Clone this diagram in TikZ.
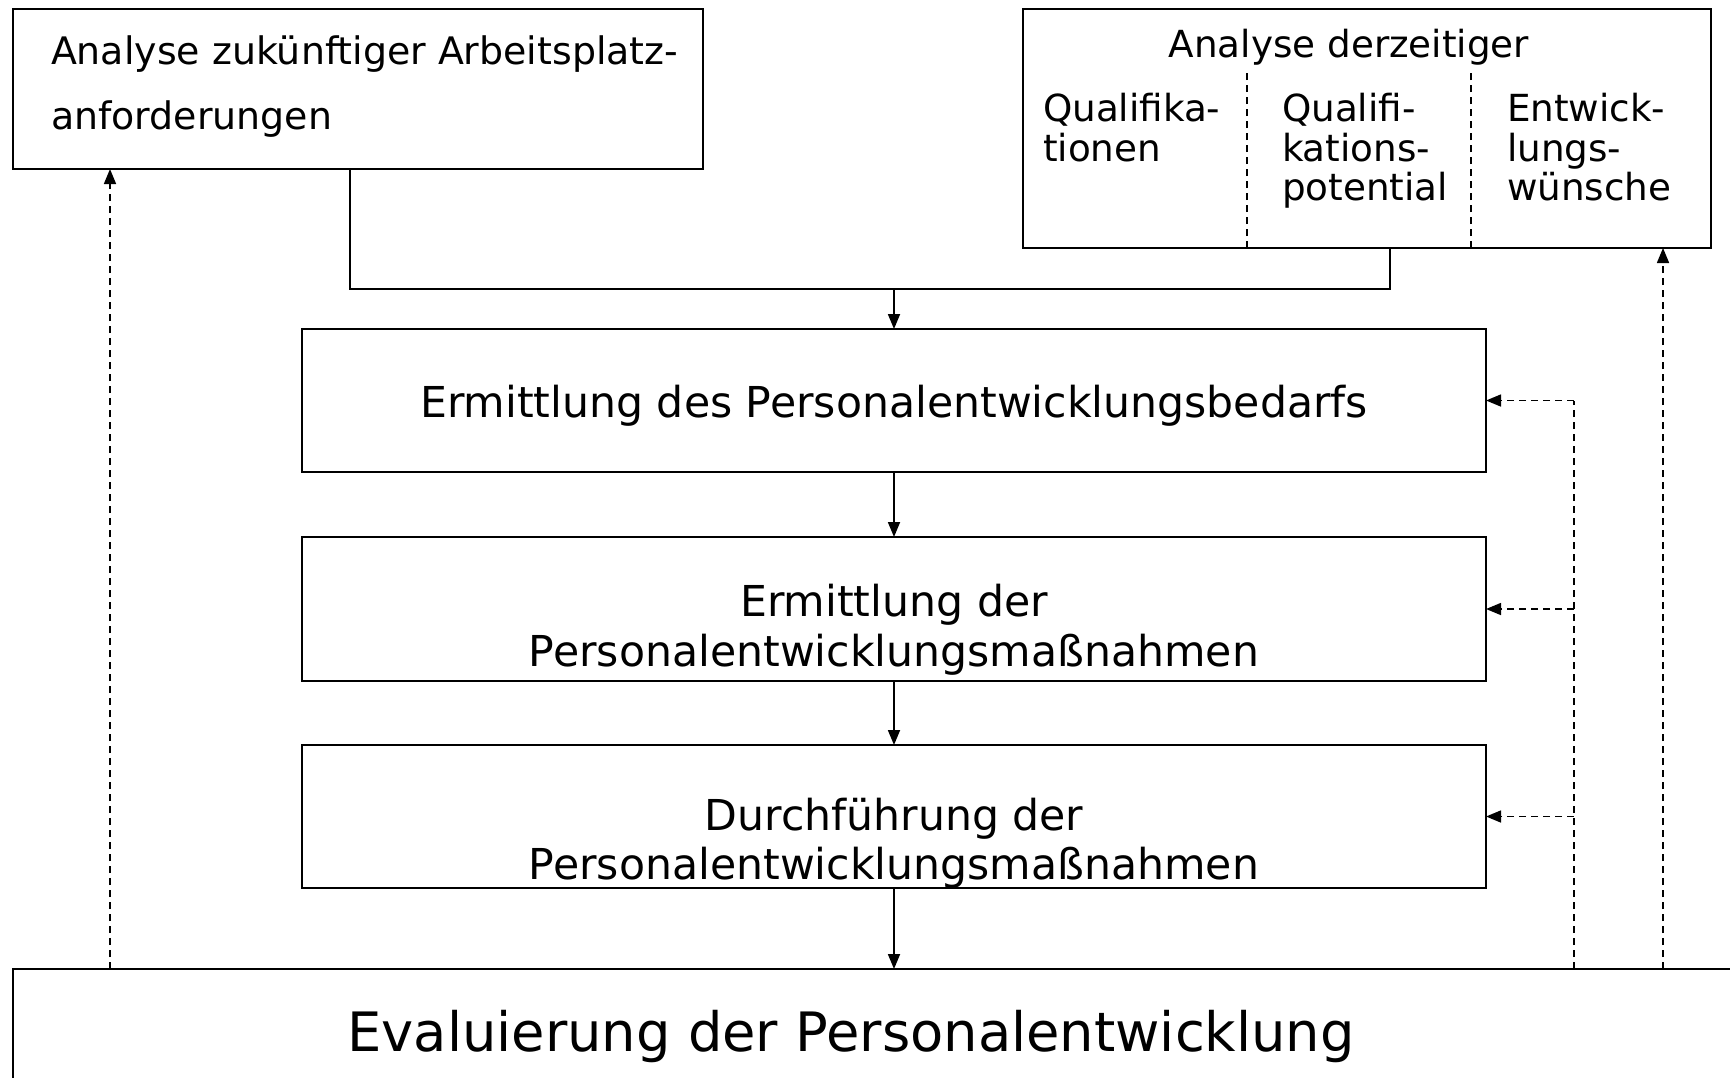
\documentclass[tikz,border=0pt]{standalone}
\usepackage{fontspec}
\setmainfont{DejaVu Sans}
\usetikzlibrary{arrows.meta,calc}
\tikzset{
  box/.style={draw, line width=2pt, inner sep=0pt, outer sep=0pt, rectangle},
  flow/.style={line width=1.8pt, -{Triangle[length=15pt,width=12pt]}},
  fb/.style={line width=1.6pt, dash pattern=on 7pt off 5pt, -{Triangle[length=15pt,width=12pt]}},
  fbl/.style={line width=1.6pt, dash pattern=on 7pt off 5pt},
  sep/.style={line width=1.4pt, dash pattern=on 7pt off 5pt},
  lbl/.style={inner sep=0pt, outer sep=0pt},
  fa/.style={font=\fontsize{37.9}{38}\selectfont},
  fbx/.style={font=\fontsize{37.3}{38}\selectfont},
  fm/.style={font=\fontsize{42.6}{43}\selectfont},
  fl/.style={font=\fontsize{54.3}{55}\selectfont},
}
\begin{document}
\begin{tikzpicture}[x=1pt,y=-1pt]
\useasboundingbox (0,0) rectangle (1730,1077);
\clip (0,0) rectangle (1730,1077);
% boxes
\node[box, minimum width=690pt, minimum height=160pt] (A) at (358,89) {};
\node[box, minimum width=688pt, minimum height=239pt] (B) at (1367,128.5) {};
\node[box, minimum width=1184pt, minimum height=143pt] (C) at (894,400.5) {};
\node[box, minimum width=1184pt, minimum height=144pt] (D) at (894,609) {};
\node[box, minimum width=1184pt, minimum height=143pt] (E) at (894,816.5) {};
\node[box, minimum width=1740pt, minimum height=140pt] (F) at (883,1039) {};
% dividers in B
\coordinate (d1) at (1247,248);
\coordinate (d2) at (1471,248);
\draw[sep] (d1) -- (d1 |- 0,70);
\draw[sep] (d2) -- (d2 |- 0,70);
% texts
\node[lbl, anchor=base west, fa] (tA1) at (51,64) {Analyse zukünftiger Arbeitsplatz-};
\node[lbl, anchor=base west, fa] (tA2) at (51,129) {anforderungen};
\node[lbl, anchor=base, fbx] (tB) at (1349,57) {Analyse derzeitiger};
\node[lbl, anchor=base west, fbx] (q1) at (1043,121) {Qualifika-};
\node[lbl, anchor=base west, fbx] (q2) at (1043,161) {tionen};
\node[lbl, anchor=base west, fbx] (p1) at (1282,121) {Qualifi-};
\node[lbl, anchor=base west, fbx] (p2) at (1282,161) {kations-};
\node[lbl, anchor=base west, fbx] (p3) at (1282,200) {potential};
\node[lbl, anchor=base west, fbx] (w1) at (1507,121) {Entwick-};
\node[lbl, anchor=base west, fbx] (w2) at (1507,161) {lungs-};
\node[lbl, anchor=base west, fbx] (w3) at (1507,200) {wünsche};
\node[lbl, anchor=base, fm] (tC) at (894,417) {Ermittlung des Personalentwicklungsbedarfs};
\node[lbl, anchor=base, fm] (tD1) at (894,616) {Ermittlung der};
\node[lbl, anchor=base, fm] (tD2) at (894,666) {Personalentwicklungsmaßnahmen};
\node[lbl, anchor=base, fm] (tE1) at (894,830) {Durchführung der};
\node[lbl, anchor=base, fm] (tE2) at (894,879) {Personalentwicklungsmaßnahmen};
\node[lbl, anchor=base, fl] (tF) at (851,1051) {Evaluierung der Personalentwicklung};
% main flow
\coordinate (j) at (894,289);
\draw[line width=1.8pt] ([xshift=-8pt]A.south) |- ([xshift=23pt]B.south |- j) -- ([xshift=23pt]B.south);
\draw[flow] (j) -- (C.north);
\draw[flow] (C.south) -- (D.north);
\draw[flow] (D.south) -- (E.north);
\draw[flow] (E.south) -- (F.north -| E.south);
% feedback
\coordinate (fa) at (110,969);
\coordinate (fb) at (1663,969);
\coordinate (fc) at (1574,969);
\draw[fb] (fa) -- (fa |- A.south);
\draw[fb] (fb) -- (fb |- B.south);
\draw[fbl] (fc) -- (fc |- C.east);
\draw[fb] (fc |- C.east) -- (C.east);
\draw[fb] (fc |- D.east) -- (D.east);
\draw[fb] (fc |- E.east) -- (E.east);
\end{tikzpicture}
\end{document}
